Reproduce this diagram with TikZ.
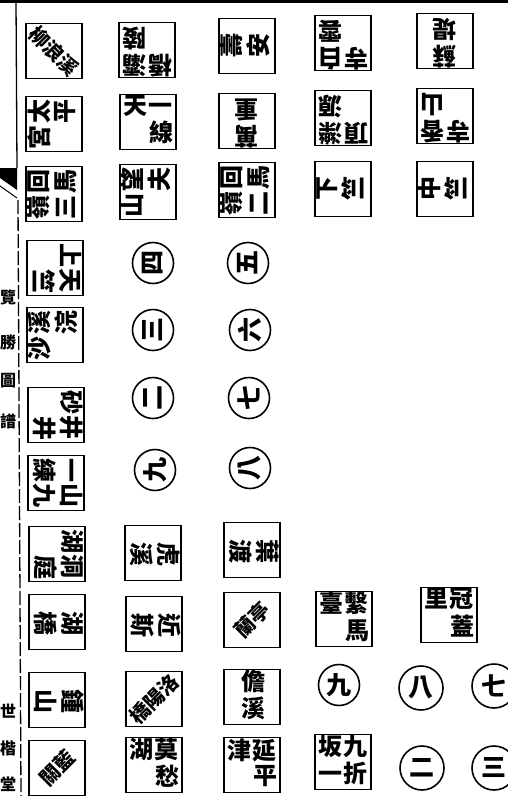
\documentclass[tikz,border=0pt]{standalone}
\usepackage{fontspec}
\newfontfamily\cjk{Noto Sans CJK TC}
\newcommand\cols[1]{{\renewcommand\arraystretch{0.85}\begin{tabular}{@{}c@{\hspace{2pt}}c@{}}#1\end{tabular}}}
\begin{document}
\begin{tikzpicture}[x=1pt,y=-1pt,
  sq/.style={draw, line width=1.6pt, minimum width=56pt, minimum height=55pt, inner sep=0pt},
  ring/.style={draw, circle, line width=1.6pt, minimum size=41pt, inner sep=0pt},
  num/.style={font=\cjk\bfseries\fontsize{25}{25}\selectfont, inner sep=0pt},
  lbl/.style={font=\cjk\bfseries\fontsize{24}{26}\selectfont, inner sep=0pt},
  dlbl/.style={font=\cjk\bfseries\fontsize{20}{20}\selectfont, inner sep=0pt},
  side/.style={font=\cjk\bfseries\fontsize{16}{16}\selectfont, inner sep=0pt}]
\useasboundingbox (0,0) rectangle (508,796);
\fill[white] (0,0) rectangle (508,796);
% top band and left strip
\draw[line width=3pt] (0,1) -- (508,1);
\draw[line width=1.3pt] (16,0) -- (17,168);
\draw[line width=1.3pt, dash pattern=on 14pt off 3pt] (18,200) -- (21,796);
\fill (0,168) -- (17,168) -- (17,190) -- (0,178) -- cycle;
\draw[line width=1pt] (0,186) -- (17,198);
\node[side] (s1) at (8,297) {覽};
\node[side] (s2) at (8,342) {勝};
\node[side] (s3) at (8,381) {圖};
\node[side] (s4) at (8,421) {譜};
\node[side] (s5) at (8,711) {世};
\node[side] (s6) at (8,748) {楷};
\node[side] (s7) at (8,784) {堂};
% row 1
\node[sq] (b11) at (54,51) {};  \node[dlbl,rotate=-45] (t11) at (b11) {柳浪溪};
\node[sq] (b12) at (147,50) {}; \node[lbl,rotate=180] (t12) at (b12) {\cols{橋&灞\\&陵}};
\node[sq] (b13) at (247,46) {}; \node[lbl,rotate=90] (t13) at (b13) {\cols{&壽\\&安}};
\node[sq] (b14) at (343,43) {}; \node[lbl,rotate=180] (t14) at (b14) {\cols{寺&白\\&雲}};
\node[sq] (b15) at (445,41) {}; \node[lbl,rotate=180] (t15) at (b15) {\cols{&蘇\\&堤}};
% row 2
\node[sq] (b21) at (54,124) {}; \node[lbl,rotate=90] (t21) at (b21) {\cols{宮&太\\&平}};
\node[sq] (b22) at (148,122) {}; \node[lbl] (t22) at (b22) {\cols{天&一\\&線}};
\node[sq] (b23) at (247,121) {}; \node[lbl,rotate=180] (t23) at (b23) {\cols{&萬\\&重}};
\node[sq] (b24) at (343,118) {}; \node[lbl,rotate=180] (t24) at (b24) {\cols{頂&濼\\&源}};
\node[sq] (b25) at (445,116) {}; \node[lbl,rotate=180] (t25) at (b25) {\cols{寺&香\\&山}};
% row 3
\node[sq] (b31) at (54,194) {}; \node[lbl,rotate=90] (t31) at (b31) {\cols{嶺&回\\三&馬}};
\node[sq] (b32) at (148,192) {}; \node[lbl,rotate=90] (t32) at (b32) {\cols{山&望\\&夫}};
\node[sq] (b33) at (247,190) {}; \node[lbl,rotate=90] (t33) at (b33) {\cols{嶺&回\\二&馬}};
\node[sq] (b34) at (343,189) {}; \node[lbl,rotate=90] (t34) at (b34) {\cols{&下\\&竺}};
\node[sq] (b35) at (445,189) {}; \node[lbl,rotate=90] (t35) at (b35) {\cols{&中\\&竺}};
% rows 4-7 column 1
\node[sq] (b41) at (55,268) {}; \node[lbl,rotate=-90] (t41) at (b41) {\cols{上&天\\&竺}};
\node[sq] (b51) at (55,335) {}; \node[lbl,rotate=90] (t51) at (b51) {\cols{沙&溪\\&浣}};
\node[sq] (b61) at (56,415) {}; \node[lbl,rotate=-90] (t61) at (b61) {\cols{砂&井\\&井}};
\node[sq] (b71) at (56,483) {}; \node[lbl,rotate=-90] (t71) at (b71) {\cols{一&山\\練&九}};
% circles
\node[ring] (c42) at (153,263) {}; \node[num,rotate=90] (n42) at (c42) {四};
\node[ring] (c43) at (248,263) {}; \node[num,rotate=90] (n43) at (c43) {五};
\node[ring] (c52) at (153,330) {}; \node[num,rotate=90] (n52) at (c52) {三};
\node[ring] (c53) at (250,330) {}; \node[num,rotate=90] (n53) at (c53) {六};
\node[ring] (c62) at (153,398) {}; \node[num,rotate=90] (n62) at (c62) {二};
\node[ring] (c63) at (249,398) {}; \node[num,rotate=90] (n63) at (c63) {七};
\node[ring] (c72) at (155,470) {}; \node[num,rotate=90] (n72) at (c72) {九};
\node[ring] (c73) at (250,468) {}; \node[num,rotate=90] (n73) at (c73) {八};
% row 8
\node[sq] (b81) at (57,554) {}; \node[lbl,rotate=-90] (t81) at (b81) {\cols{湖&洞\\&庭}};
\node[sq] (b82) at (153,553) {}; \node[lbl,rotate=-90] (t82) at (b82) {\cols{&虎\\&溪}};
\node[sq] (b83) at (252,550) {}; \node[lbl,rotate=-90] (t83) at (b83) {\cols{&葉\\&渡}};
% row 9
\node[sq] (b91) at (57,622) {}; \node[lbl,rotate=-90] (t91) at (b91) {\cols{&湖\\&橋}};
\node[sq] (b92) at (154,624) {}; \node[lbl,rotate=-90] (t92) at (b92) {\cols{&近\\&斯}};
\node[sq] (b93) at (252,620) {}; \node[dlbl,rotate=45] (t93) at (b93) {蘭亭};
\node[sq] (b94) at (344,619) {}; \node[lbl] (t94) at (b94) {\cols{臺&繫\\&馬}};
\node[sq] (b95) at (449,615) {}; \node[lbl] (t95) at (b95) {\cols{里&冠\\&蓋}};
% row 10
\node[sq] (b101) at (57,700) {}; \node[lbl,rotate=-90] (t101) at (b101) {\cols{&鍾\\&山}};
\node[sq] (b102) at (154,699) {}; \node[dlbl,rotate=45] (t102) at (b102) {橋陽洛};
\node[sq] (b103) at (252,697) {}; \node[lbl] (t103) at (b103) {\cols{&儋\\&溪}};
\node[ring] (c104) at (339,685) {}; \node[num] (n104) at (c104) {九};
\node[ring, minimum size=44pt] (c105) at (421,688) {}; \node[num] (n105) at (c105) {八};
\node[ring, minimum size=44pt] (c106) at (494,686) {}; \node[num] (n106) at (c106) {七};
% row 11
\node[sq] (b111) at (57,768) {}; \node[dlbl,rotate=45] (t111) at (b111) {關藍};
\node[sq] (b112) at (154,765) {}; \node[lbl] (t112) at (b112) {\cols{湖&莫\\&愁}};
\node[sq] (b113) at (252,765) {}; \node[lbl] (t113) at (b113) {\cols{津&延\\&平}};
\node[sq] (b114) at (343,762) {}; \node[lbl] (t114) at (b114) {\cols{坂&九\\一&折}};
\node[ring, minimum size=44pt] (c115) at (422,768) {}; \node[num] (n115) at (c115) {二};
\node[ring, minimum size=44pt] (c116) at (494,768) {}; \node[num] (n116) at (c116) {三};
\end{tikzpicture}
\end{document}
